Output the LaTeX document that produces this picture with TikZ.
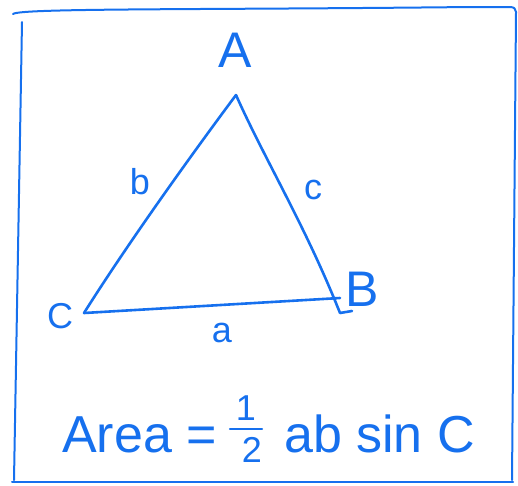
\documentclass[tikz,border=0pt]{standalone}
\usepackage{fontspec}
\setmainfont{Liberation Sans}
\definecolor{ink}{RGB}{22,112,238}
\begin{document}
\begin{tikzpicture}[x=1pt,y=-1pt,
  pen/.style={draw=ink,line width=2.6pt,line cap=round,line join=round},
  lbl/.style={text=ink,inner sep=0pt,font=\fontsize{36}{40}\selectfont},
  biglbl/.style={text=ink,inner sep=0pt,font=\fontsize{50}{56}\selectfont},
  formula/.style={text=ink,inner sep=0pt,font=\fontsize{52}{60}\selectfont}]
\useasboundingbox (0,0) rectangle (518,485);
% frame
\coordinate (tl) at (13,14);
\coordinate (tr) at (510,7);
\coordinate (ltop) at (22,22);
\coordinate (lbot) at (14,480);
\coordinate (rtop) at (516,12);
\coordinate (rbot) at (512,480);
\coordinate (bl) at (12,482);
\coordinate (br) at (513,482);
\draw[pen,line width=2pt] (tl) .. controls (20,8) and (200,10) .. (470,7) -- (tr) .. controls (514,7) and (516,9) .. (rtop);
\draw[pen,line width=2pt] (rtop) -- (rbot);
\draw[pen,line width=2pt] (ltop) -- (lbot);
\draw[pen,line width=2pt] (bl) -- (br);
% triangle
\coordinate (vA) at (236,95);
\coordinate (vC) at (84,313);
\coordinate (vBb) at (340,298);
\coordinate (vBr) at (340,313);
\coordinate (vBh) at (352,311);
\draw[pen] (vA) .. controls (195,150) and (130,240) .. (vC);
\draw[pen] (vC) -- (vBb);
\draw[pen] (vA) .. controls (265,160) and (305,225) .. (vBr) -- (vBh);
% labels
\node[biglbl] (lA) at (235,50) {A};
\node[lbl] (lb) at (140,182) {b};
\node[lbl] (lc) at (313,190) {c};
\node[lbl] (lC) at (60,316) {C};
\node[biglbl] (lB) at (362,289) {B};
\node[lbl] (la) at (222,333) {a};
\node[formula,anchor=base west] (area) at (62,452) {Area =};
\node[lbl] (one) at (246,408) {1};
\node[lbl] (two) at (252,450) {2};
\coordinate (barL) at (230,429);
\coordinate (barR) at (262,429);
\draw[pen,line width=2.2pt] (barL) -- (barR);
\node[formula,anchor=base west] (absinc) at (284,452) {ab sin C};
\end{tikzpicture}
\end{document}
